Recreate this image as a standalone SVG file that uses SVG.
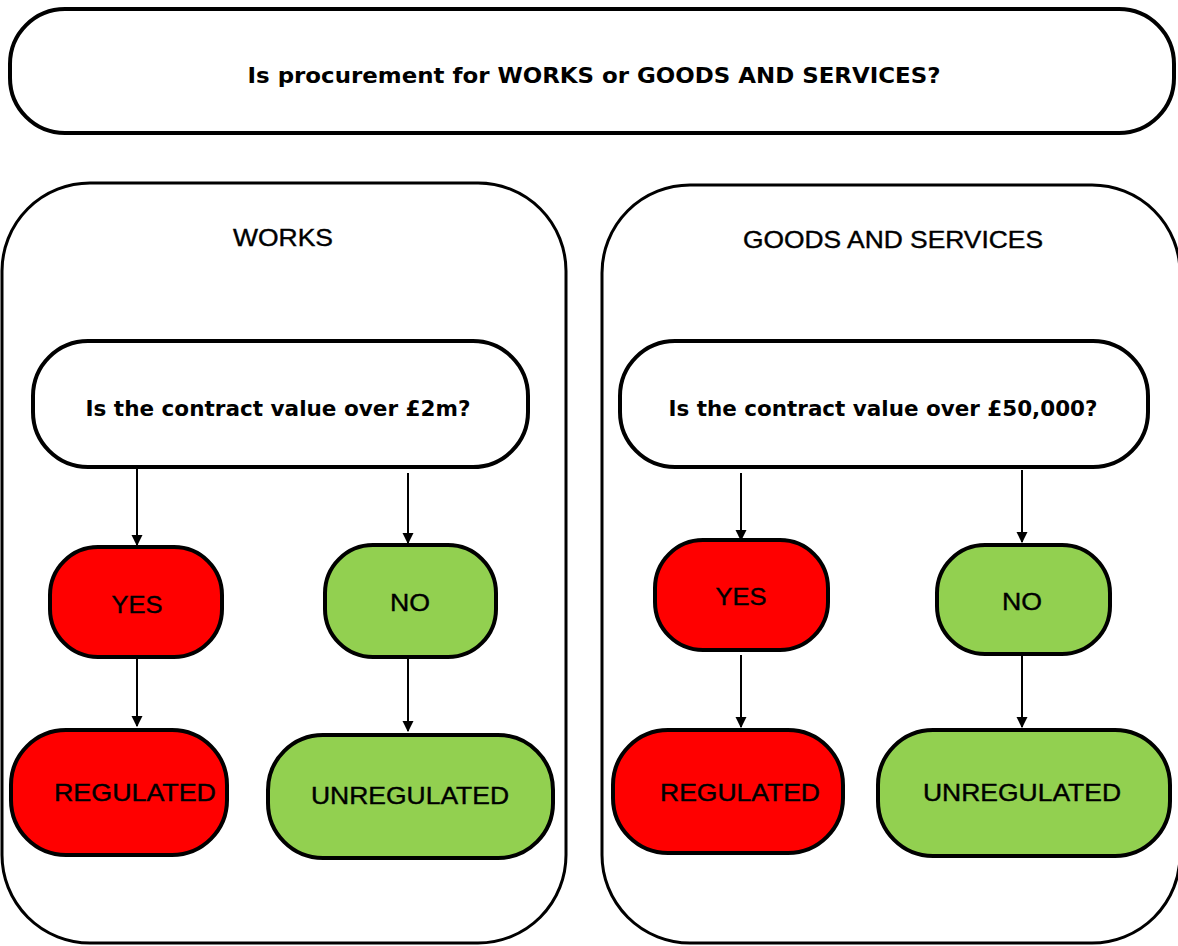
<svg xmlns="http://www.w3.org/2000/svg" width="1178" height="946" viewBox="0 0 1178 946">
<defs>
<style>
.box{fill:#fff;stroke:#000;stroke-width:4}
.red{fill:#ff0000;stroke:#000;stroke-width:4}
.green{fill:#92d050;stroke:#000;stroke-width:4}
.panel{fill:#fff;stroke:#000;stroke-width:3}
.q{font-family:"DejaVu Sans","Liberation Sans",sans-serif;font-weight:bold;font-size:22px;fill:#000}
.t{font-family:"Liberation Sans",Arial,sans-serif;font-size:24px;fill:#000;stroke:#000;stroke-width:0.4}
.conn{stroke:#000;stroke-width:2;fill:none;marker-end:url(#ah)}
</style>
<marker id="ah" viewBox="0 0 10 10" refX="9" refY="5" markerWidth="5.5" markerHeight="6" markerUnits="strokeWidth" orient="auto">
<path d="M0,0 L10,5 L0,10 z" fill="#000"/>
</marker>
</defs>
<rect width="1178" height="946" fill="#fff"/>
<g id="top">
<rect class="box" x="10" y="9" width="1164" height="124" rx="55" ry="55"/>
<text class="q" x="594" y="83" text-anchor="middle" textLength="693" lengthAdjust="spacingAndGlyphs">Is procurement for WORKS or GOODS AND SERVICES?</text>
</g>
<g id="works-panel">
<rect class="panel" x="2" y="183" width="564" height="760" rx="88" ry="88"/>
<text class="t" x="283" y="246" text-anchor="middle" textLength="100" lengthAdjust="spacingAndGlyphs">WORKS</text>
</g>
<g id="goods-panel">
<rect class="panel" x="602" y="185" width="578" height="758" rx="88" ry="88"/>
<text class="t" x="893" y="248" text-anchor="middle" textLength="300" lengthAdjust="spacingAndGlyphs">GOODS AND SERVICES</text>
</g>
<g id="works-q">
<rect class="box" x="33" y="341" width="495" height="126" rx="55" ry="55"/>
<text class="q" x="278" y="416" text-anchor="middle" textLength="385" lengthAdjust="spacingAndGlyphs">Is the contract value over £2m?</text>
</g>
<g id="goods-q">
<rect class="box" x="620" y="341" width="528" height="126" rx="55" ry="55"/>
<text class="q" x="883" y="416" text-anchor="middle" textLength="429" lengthAdjust="spacingAndGlyphs">Is the contract value over £50,000?</text>
</g>
<g id="works-yes">
<rect class="red" x="50" y="547" width="172" height="110" rx="48" ry="48"/>
<text class="t" x="137" y="613" text-anchor="middle" textLength="51" lengthAdjust="spacingAndGlyphs">YES</text>
</g>
<g id="works-no">
<rect class="green" x="325" y="545" width="171" height="112" rx="48" ry="48"/>
<text class="t" x="410" y="611" text-anchor="middle" textLength="40" lengthAdjust="spacingAndGlyphs">NO</text>
</g>
<g id="works-regulated">
<rect class="red" x="11" y="730" width="216" height="125" rx="55" ry="55"/>
<text class="t" x="135" y="801" text-anchor="middle" textLength="162" lengthAdjust="spacingAndGlyphs">REGULATED</text>
</g>
<g id="works-unregulated">
<rect class="green" x="268" y="735" width="285" height="123" rx="55" ry="55"/>
<text class="t" x="410" y="804" text-anchor="middle" textLength="198" lengthAdjust="spacingAndGlyphs">UNREGULATED</text>
</g>
<g id="goods-yes">
<rect class="red" x="655" y="540" width="173" height="110" rx="48" ry="48"/>
<text class="t" x="741" y="605" text-anchor="middle" textLength="51" lengthAdjust="spacingAndGlyphs">YES</text>
</g>
<g id="goods-no">
<rect class="green" x="937" y="545" width="173" height="109" rx="48" ry="48"/>
<text class="t" x="1022" y="610" text-anchor="middle" textLength="40" lengthAdjust="spacingAndGlyphs">NO</text>
</g>
<g id="goods-regulated">
<rect class="red" x="613" y="730" width="230" height="123" rx="55" ry="55"/>
<text class="t" x="740" y="801" text-anchor="middle" textLength="160" lengthAdjust="spacingAndGlyphs">REGULATED</text>
</g>
<g id="goods-unregulated">
<rect class="green" x="878" y="730" width="292" height="126" rx="55" ry="55"/>
<text class="t" x="1022" y="801" text-anchor="middle" textLength="198" lengthAdjust="spacingAndGlyphs">UNREGULATED</text>
</g>
<g id="connectors">
<line class="conn" x1="137" y1="469" x2="137" y2="545"/>
<line class="conn" x1="408" y1="473" x2="408" y2="543"/>
<line class="conn" x1="137" y1="659" x2="137" y2="726"/>
<line class="conn" x1="408" y1="659" x2="408" y2="731"/>
<line class="conn" x1="741" y1="473" x2="741" y2="540"/>
<line class="conn" x1="1022" y1="470" x2="1022" y2="542"/>
<line class="conn" x1="741" y1="655" x2="741" y2="727"/>
<line class="conn" x1="1022" y1="655" x2="1022" y2="727"/>
</g>
</svg>
